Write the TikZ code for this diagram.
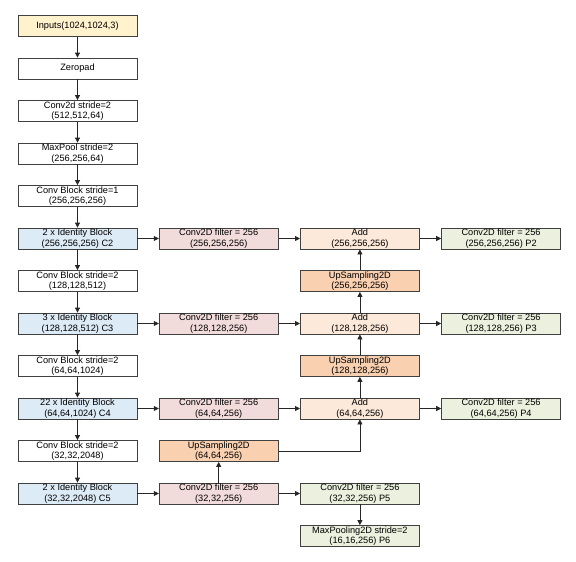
\documentclass[tikz,border=0pt]{standalone}
\usepackage{fontspec}
\setmainfont{Liberation Sans}
\usepackage{xcolor}
\usetikzlibrary{arrows.meta,positioning}

\definecolor{inpfill}{HTML}{FFF2CC}
\definecolor{idfill}{HTML}{DDEBF6}
\definecolor{convfill}{HTML}{F2DCDB}
\definecolor{addfill}{HTML}{FDE9D9}
\definecolor{upfill}{HTML}{F9D0B0}
\definecolor{outfill}{HTML}{EBF1DE}
\definecolor{edge}{HTML}{404040}

\begin{document}
\begin{tikzpicture}[
  node distance=20.7pt and 21.4pt,
  layer/.style={rectangle,draw=edge,line width=0.8pt,fill=white,
                minimum width=119pt,minimum height=21pt,inner sep=0pt,
                font=\fontsize{9.2}{10.5}\selectfont,align=center},
  inp/.style={layer,fill=inpfill},
  ident/.style={layer,fill=idfill},
  conv/.style={layer,fill=convfill},
  addbox/.style={layer,fill=addfill},
  upbox/.style={layer,fill=upfill},
  outbox/.style={layer,fill=outfill},
  arr/.style={-{Triangle[length=5pt,width=5pt]},line width=0.8pt,black!85}
]
  \useasboundingbox (0,0) rectangle (576pt,-562pt);

  % backbone
  \node[inp] (inputs) at (77.5pt,-26pt) {Inputs(1024,1024,3)};
  \node[layer,below=of inputs] (zpad) {Zeropad};
  \node[layer,below=of zpad] (conv1) {Conv2d stride=2\\(512,512,64)};
  \node[layer,below=of conv1] (pool) {MaxPool stride=2\\(256,256,64)};
  \node[layer,below=of pool] (cb1) {Conv Block stride=1\\(256,256,256)};
  \node[ident,below=of cb1] (c2) {2 x Identity Block\\(256,256,256) C2};
  \node[layer,below=of c2] (cb2) {Conv Block stride=2\\(128,128,512)};
  \node[ident,below=of cb2] (c3) {3 x Identity Block\\(128,128,512) C3};
  \node[layer,below=of c3] (cb3) {Conv Block stride=2\\(64,64,1024)};
  \node[ident,below=of cb3] (c4) {22 x Identity Block\\(64,64,1024) C4};
  \node[layer,below=of c4] (cb4) {Conv Block stride=2\\(32,32,2048)};
  \node[ident,below=of cb4] (c5) {2 x Identity Block\\(32,32,2048) C5};

  % lateral convs
  \node[conv,right=of c2] (lat2) {Conv2D filter = 256\\(256,256,256)};
  \node[conv,right=of c3] (lat3) {Conv2D filter = 256\\(128,128,256)};
  \node[conv,right=of c4] (lat4) {Conv2D filter = 256\\(64,64,256)};
  \node[conv,right=of c5] (lat5) {Conv2D filter = 256\\(32,32,256)};
  \node[upbox,right=of cb4] (up4) {UpSampling2D\\(64,64,256)};

  % top-down path
  \node[addbox,right=of lat2] (add2) {Add\\(256,256,256)};
  \node[addbox,right=of lat3] (add3) {Add\\(128,128,256)};
  \node[addbox,right=of lat4] (add4) {Add\\(64,64,256)};
  \node[upbox,above=of add3] (up2) {UpSampling2D\\(256,256,256)};
  \node[upbox,above=of add4] (up3) {UpSampling2D\\(128,128,256)};
  \node[outbox,right=of lat5] (p5) {Conv2D filter = 256\\(32,32,256) P5};
  \node[outbox,below=of p5] (p6) {MaxPooling2D stride=2\\(16,16,256) P6};

  % outputs
  \node[outbox,right=of add2] (p2) {Conv2D filter = 256\\(256,256,256) P2};
  \node[outbox,right=of add3] (p3) {Conv2D filter = 256\\(128,128,256) P3};
  \node[outbox,right=of add4] (p4) {Conv2D filter = 256\\(64,64,256) P4};

  \draw[arr] (inputs) -- (zpad);
  \draw[arr] (zpad) -- (conv1);
  \draw[arr] (conv1) -- (pool);
  \draw[arr] (pool) -- (cb1);
  \draw[arr] (cb1) -- (c2);
  \draw[arr] (c2) -- (cb2);
  \draw[arr] (cb2) -- (c3);
  \draw[arr] (c3) -- (cb3);
  \draw[arr] (cb3) -- (c4);
  \draw[arr] (c4) -- (cb4);
  \draw[arr] (cb4) -- (c5);

  \draw[arr] (c2) -- (lat2);
  \draw[arr] (c3) -- (lat3);
  \draw[arr] (c4) -- (lat4);
  \draw[arr] (c5) -- (lat5);
  \draw[arr] (lat2) -- (add2);
  \draw[arr] (lat3) -- (add3);
  \draw[arr] (lat4) -- (add4);
  \draw[arr] (lat5) -- (p5);
  \draw[arr] (p5) -- (p6);
  \draw[arr] (add2) -- (p2);
  \draw[arr] (add3) -- (p3);
  \draw[arr] (add4) -- (p4);

  \draw[arr] (lat5) -- (up4);
  \draw[arr] (up4.east) -| (add4.south);
  \draw[arr] (add4) -- (up3);
  \draw[arr] (up3) -- (add3);
  \draw[arr] (add3) -- (up2);
  \draw[arr] (up2) -- (add2);
\end{tikzpicture}
\end{document}
